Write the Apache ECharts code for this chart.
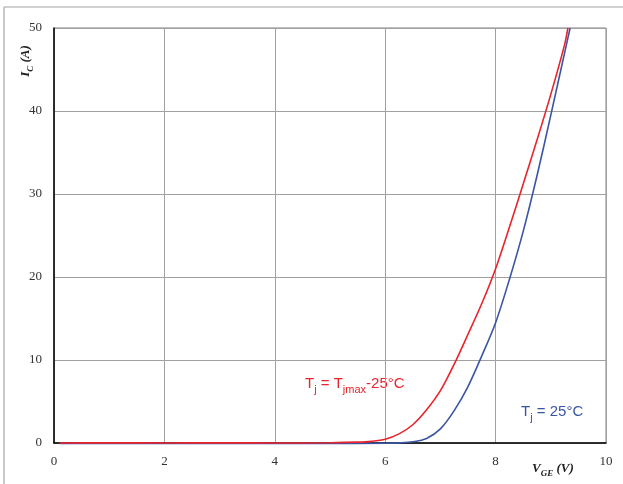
<!DOCTYPE html>
<html>
<head>
<meta charset="utf-8">
<title>Transfer characteristic</title>
<script src="https://cdn.jsdelivr.net/npm/echarts@6/dist/echarts.min.js"></script>
<style>
  html, body { margin: 0; padding: 0; background: #fff; }
  #chart { width: 623px; height: 484px; }
</style>
</head>
<body>
<div id="chart"></div>
<script>
// Gate-emitter voltage V_GE (V) and collector current I_C (A)
const vgeHot = [0.1, 1, 2, 3, 4, 5, 5.5, 5.75, 6, 6.25, 6.5, 6.75, 7, 7.25, 7.5, 7.75, 8, 8.25, 8.5, 8.75, 9, 9.25, 9.31];
const icHot  = [0, 0.02, 0, 0.03, 0, 0.03, 0.1, 0.2, 0.45, 1.1, 2.2, 4.0, 6.3, 9.5, 13.1, 16.8, 21, 26, 31.2, 36.5, 42, 48, 50];

const vgeCold = [0.1, 1, 2, 3, 4, 5, 6, 6.25, 6.5, 6.75, 7, 7.25, 7.5, 7.75, 8, 8.25, 8.5, 8.75, 9, 9.25, 9.35];
const icCold  = [-0.05, -0.05, -0.05, -0.05, -0.05, -0.05, -0.03, 0.02, 0.15, 0.55, 1.7, 3.9, 6.8, 10.5, 14.5, 19.7, 25.5, 32.2, 39.5, 47, 50];

const xTicks = [0, 2, 4, 6, 8, 10];
const yTicks = [0, 10, 20, 30, 40, 50];

const hotColor = '#e8242c';
const coldColor = '#3a55a4';

const pairs = (xs, ys) => xs.map((x, i) => [x, ys[i]]);

const chart = echarts.init(document.getElementById('chart'), null, { renderer: 'canvas' });

const tickFont = { fontFamily: 'Liberation Serif', fontSize: 13, color: '#333' };

chart.setOption({
  animation: false,
  backgroundColor: '#fff',
  grid: { left: 54, right: 17, top: 28, bottom: 41, show: true, borderColor: '#808080', borderWidth: 1 },
  xAxis: {
    type: 'value',
    min: xTicks[0], max: xTicks[xTicks.length - 1], interval: 2,
    axisLine: { show: true, onZero: false, lineStyle: { color: '#000', width: 1.5 } },
    axisTick: { show: false },
    axisLabel: Object.assign({ margin: 12 }, tickFont),
    splitLine: { show: true, lineStyle: { color: '#a0a0a0', width: 1 } }
  },
  yAxis: {
    type: 'value',
    min: yTicks[0], max: yTicks[yTicks.length - 1], interval: 10,
    axisLine: { show: true, onZero: false, lineStyle: { color: '#000', width: 1.5 } },
    axisTick: { show: false },
    axisLabel: Object.assign({ margin: 12 }, tickFont),
    splitLine: { show: true, lineStyle: { color: '#a0a0a0', width: 1 } }
  },
  series: [
    {
      name: 'Tj = Tjmax-25°C',
      type: 'line',
      data: pairs(vgeHot, icHot),
      smooth: 0.3,
      showSymbol: false,
      clip: false,
      lineStyle: { color: hotColor, width: 1.6 },
      z: 3
    },
    {
      name: 'Tj = 25°C',
      type: 'line',
      data: pairs(vgeCold, icCold),
      smooth: 0.3,
      showSymbol: false,
      clip: false,
      lineStyle: { color: coldColor, width: 1.6 },
      z: 2
    }
  ],
  graphic: [
    // outer frame
    { type: 'line', shape: { x1: 4, y1: 7, x2: 623, y2: 7 }, style: { stroke: '#d0d0d0', lineWidth: 2 } },
    { type: 'line', shape: { x1: 4, y1: 7, x2: 4, y2: 484 }, style: { stroke: '#b8b8b8', lineWidth: 1.5 } },
    // axis titles
    {
      type: 'text', x: 26, y: 61, rotation: Math.PI / 2,
      style: {
        text: '{a|I}{s|C}{a| (A)}',
        align: 'center', verticalAlign: 'middle',
        rich: {
          a: { fontFamily: 'Liberation Serif', fontStyle: 'italic', fontWeight: 'bold', fontSize: 13, lineHeight: 18, fill: '#222' },
          s: { fontFamily: 'Liberation Serif', fontStyle: 'italic', fontWeight: 'bold', fontSize: 9, verticalAlign: 'bottom', fill: '#222' }
        }
      }
    },
    {
      type: 'text', x: 532, y: 460,
      style: {
        text: '{a|V}{s|GE}{a| (V)}',
        rich: {
          a: { fontFamily: 'Liberation Serif', fontStyle: 'italic', fontWeight: 'bold', fontSize: 13, lineHeight: 18, fill: '#222' },
          s: { fontFamily: 'Liberation Serif', fontStyle: 'italic', fontWeight: 'bold', fontSize: 9, verticalAlign: 'bottom', fill: '#222' }
        }
      }
    },
    // curve labels
    {
      type: 'text', x: 305, y: 373,
      style: {
        text: '{a|T}{s|j}{a| = T}{s|jmax}{a|-25°C}',
        rich: {
          a: { fontFamily: 'Liberation Sans', fontSize: 15, lineHeight: 22, fill: hotColor },
          s: { fontFamily: 'Liberation Sans', fontSize: 11, verticalAlign: 'bottom', fill: hotColor }
        }
      }
    },
    {
      type: 'text', x: 521, y: 401,
      style: {
        text: '{a|T}{s|j}{a| = 25°C}',
        rich: {
          a: { fontFamily: 'Liberation Sans', fontSize: 15, lineHeight: 22, fill: coldColor },
          s: { fontFamily: 'Liberation Sans', fontSize: 11, verticalAlign: 'bottom', fill: coldColor }
        }
      }
    }
  ]
});
</script>
</body>
</html>
